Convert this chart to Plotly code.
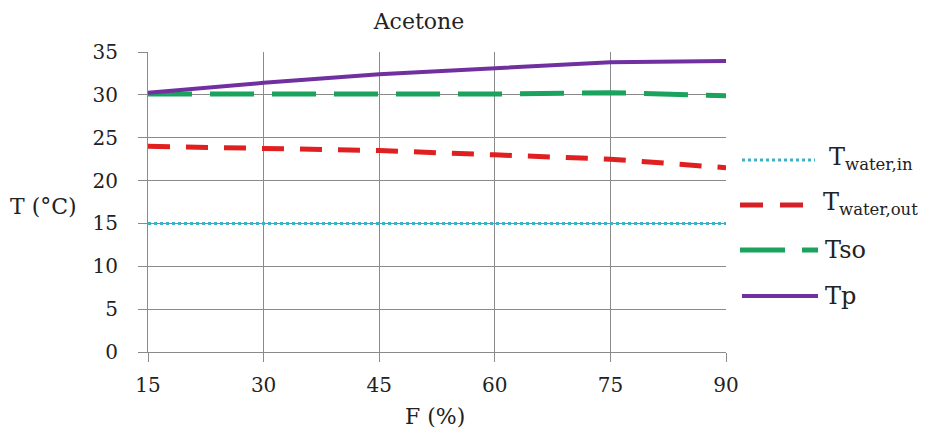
import plotly.graph_objects as go

F = [15, 30, 45, 60, 75, 90]
T_water_in = [15.0, 15.0, 15.0, 15.0, 15.0, 15.0]
T_water_out = [24.0, 23.8, 23.5, 23.0, 22.5, 21.5]
T_so = [30.1, 30.1, 30.1, 30.1, 30.25, 29.9]
T_p = [30.25, 31.4, 32.4, 33.1, 33.8, 33.95]

FONT = "DejaVu Serif, Liberation Serif, serif"
C_IN = "#3fb0c9"
C_OUT = "#e02020"
C_SO = "#1aa35c"
C_P = "#7030a0"

OFF = 8  # page body margin
FW, FH = 935 - OFF, 439 - OFF

fig = go.Figure()
fig.add_trace(go.Scatter(x=F, y=T_water_in, mode="lines", name="Twater,in",
                         line=dict(color=C_IN, width=3, dash="dot"), showlegend=False))
fig.add_trace(go.Scatter(x=F, y=T_water_out, mode="lines", name="Twater,out",
                         line=dict(color=C_OUT, width=5, dash="22px,16px"), showlegend=False))
fig.add_trace(go.Scatter(x=F, y=T_so, mode="lines", name="Tso",
                         line=dict(color=C_SO, width=5, dash="44px,18px"), showlegend=False))
fig.add_trace(go.Scatter(x=F, y=T_p, mode="lines", name="Tp",
                         line=dict(color=C_P, width=4), showlegend=False))

# plot area in screen pixels
L, R, T, B = 148, 726, 52, 352
W = R - L
H = B - T

def px(x):
    return (x - L) / W

def py(y):
    return (B - y) / H

shapes = []
def seg(x0, x1, y, color, width, dash="solid"):
    shapes.append(dict(type="line", xref="paper", yref="paper",
                       x0=px(x0), x1=px(x1), y0=py(y), y1=py(y),
                       line=dict(color=color, width=width, dash=dash)))

seg(742, 815, 160, C_IN, 3, "dot")
seg(740, 763, 205, "#d42027", 5)
seg(780, 803, 205, "#d42027", 5)
seg(740, 785, 250, C_SO, 5)
seg(802, 818, 250, C_SO, 5)
seg(742, 818, 296, C_P, 4)

annotations = []
def txt(x, y, text, size=22, anchor="left"):
    annotations.append(dict(xref="paper", yref="paper", x=px(x), y=py(y), text=text,
                            showarrow=False, xanchor=anchor, yanchor="middle",
                            font=dict(family=FONT, size=size, color="#222")))

SUB = "<sub><span style='font-size:16.5px'>%s</span></sub>"
txt(827, 158, "T" + SUB % "water,in", 24)
txt(821, 203, "T" + SUB % "water,out", 24)
txt(823, 250, "Tso", 24)
txt(823, 296, "Tp", 24)
txt(8, 207, "T (°C)", 22)
txt(435, 416, "F (%)", 22, "center")

fig.update_layout(
    width=FW, height=FH,
    margin=dict(l=L - OFF, r=FW - (R - OFF), t=T - OFF, b=FH - (B - OFF)),
    paper_bgcolor="white", plot_bgcolor="white",
    title=dict(text="Acetone", x=(419 - OFF) / FW, xanchor="center", y=1 - (21 - OFF) / FH,
               yanchor="middle", font=dict(family=FONT, size=22, color="#222")),
    shapes=shapes, annotations=annotations,
    xaxis=dict(range=[15, 90], tickvals=[15, 30, 45, 60, 75, 90], showgrid=True,
               gridcolor="#8a8a8a", gridwidth=1, showline=True, linecolor="#8a8a8a",
               ticks="outside", ticklen=9, tickcolor="#8a8a8a", zeroline=False,
               ticklabelstandoff=6,
               tickfont=dict(family=FONT, size=20, color="#222")),
    yaxis=dict(range=[0, 35], tickvals=[0, 5, 10, 15, 20, 25, 30, 35], showgrid=True,
               gridcolor="#8a8a8a", gridwidth=1, showline=True, linecolor="#8a8a8a",
               ticks="outside", ticklen=9, tickcolor="#8a8a8a", zeroline=False,
               ticklabelstandoff=16,
               tickfont=dict(family=FONT, size=20, color="#222")),
)

fig.write_html("out.html")
